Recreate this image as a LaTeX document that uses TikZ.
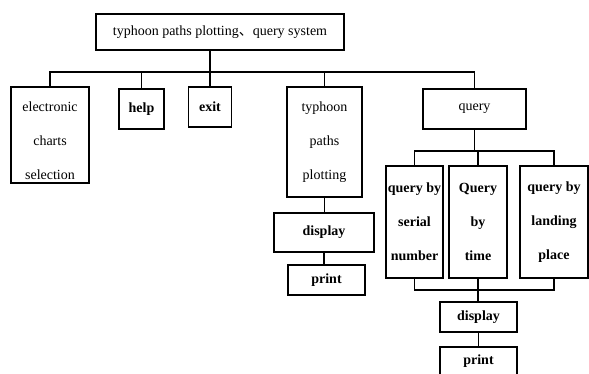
\documentclass[tikz,border=0pt]{standalone}
\usepackage{fontspec}
\setmainfont{Liberation Serif}
\newfontfamily\cjk{Noto Sans CJK SC}
\usepackage{tikz}
\usetikzlibrary{calc}

\begin{document}
\begin{tikzpicture}[x=1pt,y=-1pt,
    box/.style={draw,line width=1.4pt,inner sep=1pt,align=center,
      font=\fontsize{14}{34}\selectfont},
    bbox/.style={box,font=\fontsize{14}{34}\selectfont\bfseries},
    link/.style={line width=1.2pt}]
    \useasboundingbox (0,0) rectangle (589,374);

    % Root of the tree
    \node[box,minimum width=248,minimum height=36] (top) at (220,32)
      {typhoon paths plotting{\cjk 、}query system};

    % First level
    \node[box,minimum width=78,minimum height=96] (ecs) at (50,135)
      {\rule{0pt}{22pt}electronic\\charts\\selection};
    \node[bbox,minimum width=45,minimum height=40] (help) at (141.5,109) {help};
    \node[bbox,minimum width=43,minimum height=40] (exit) at (210,107) {exit};
    \node[box,minimum width=75,minimum height=110] (tpp) at (324.5,142)
      {typhoon\\paths\\plotting};
    \node[box,minimum width=103,minimum height=40] (query) at (474.5,109) {query};

    % Under typhoon paths plotting
    \node[bbox,minimum width=100,minimum height=39] (disp1) at (324,232.5) {display};
    \node[bbox,minimum width=77,minimum height=30] (prt1) at (326.5,280) {print};

    % Under query
    \node[bbox,minimum width=57,minimum height=112] (qsn) at (414.5,222)
      {query by\\serial\\number};
    \node[bbox,minimum width=58,minimum height=112] (qt) at (478,222)
      {Query\\by\\time};
    \node[bbox,minimum width=68,minimum height=112] (qlp) at (554,222)
      {query by\\landing\\place};
    \node[bbox,minimum width=77,minimum height=30] (disp2) at (478.5,317) {display};
    \node[bbox,minimum width=77,minimum height=28] (prt2) at (478.5,361) {print};

    % Bus lines
    \coordinate (bus) at (0,72);
    \coordinate (qbus) at (0,151);
    \coordinate (lbus) at (0,290);

    % Root to first level
    \draw[link] (exit.north |- top.south) -- (exit.north |- bus);
    \draw[link] (ecs.north) -- (ecs.north |- bus) -- (query.north |- bus) -- (query.north);
    \draw[link] (help.north) -- (help.north |- bus);
    \draw[link] (exit.north) -- (exit.north |- bus);
    \draw[link] (tpp.north) -- (tpp.north |- bus);

    % Plotting branch
    \draw[link] (tpp.south) -- (tpp.south |- disp1.north);
    \draw[link] (disp1.south) -- (disp1.south |- prt1.north);

    % Query branch
    \draw[link] (query.south) -- (query.south |- qbus);
    \draw[link] (qsn.north) -- (qsn.north |- qbus) -- (qlp.north |- qbus) -- (qlp.north);
    \draw[link] (qt.north) -- (qt.north |- qbus);
    \draw[link] (qsn.south) -- (qsn.south |- lbus) -- (qlp.south |- lbus) -- (qlp.south);
    \draw[link] (qt.south) -- (qt.south |- disp2.north);
    \draw[link] (disp2.south) -- (disp2.south |- prt2.north);
\end{tikzpicture}
\end{document}
